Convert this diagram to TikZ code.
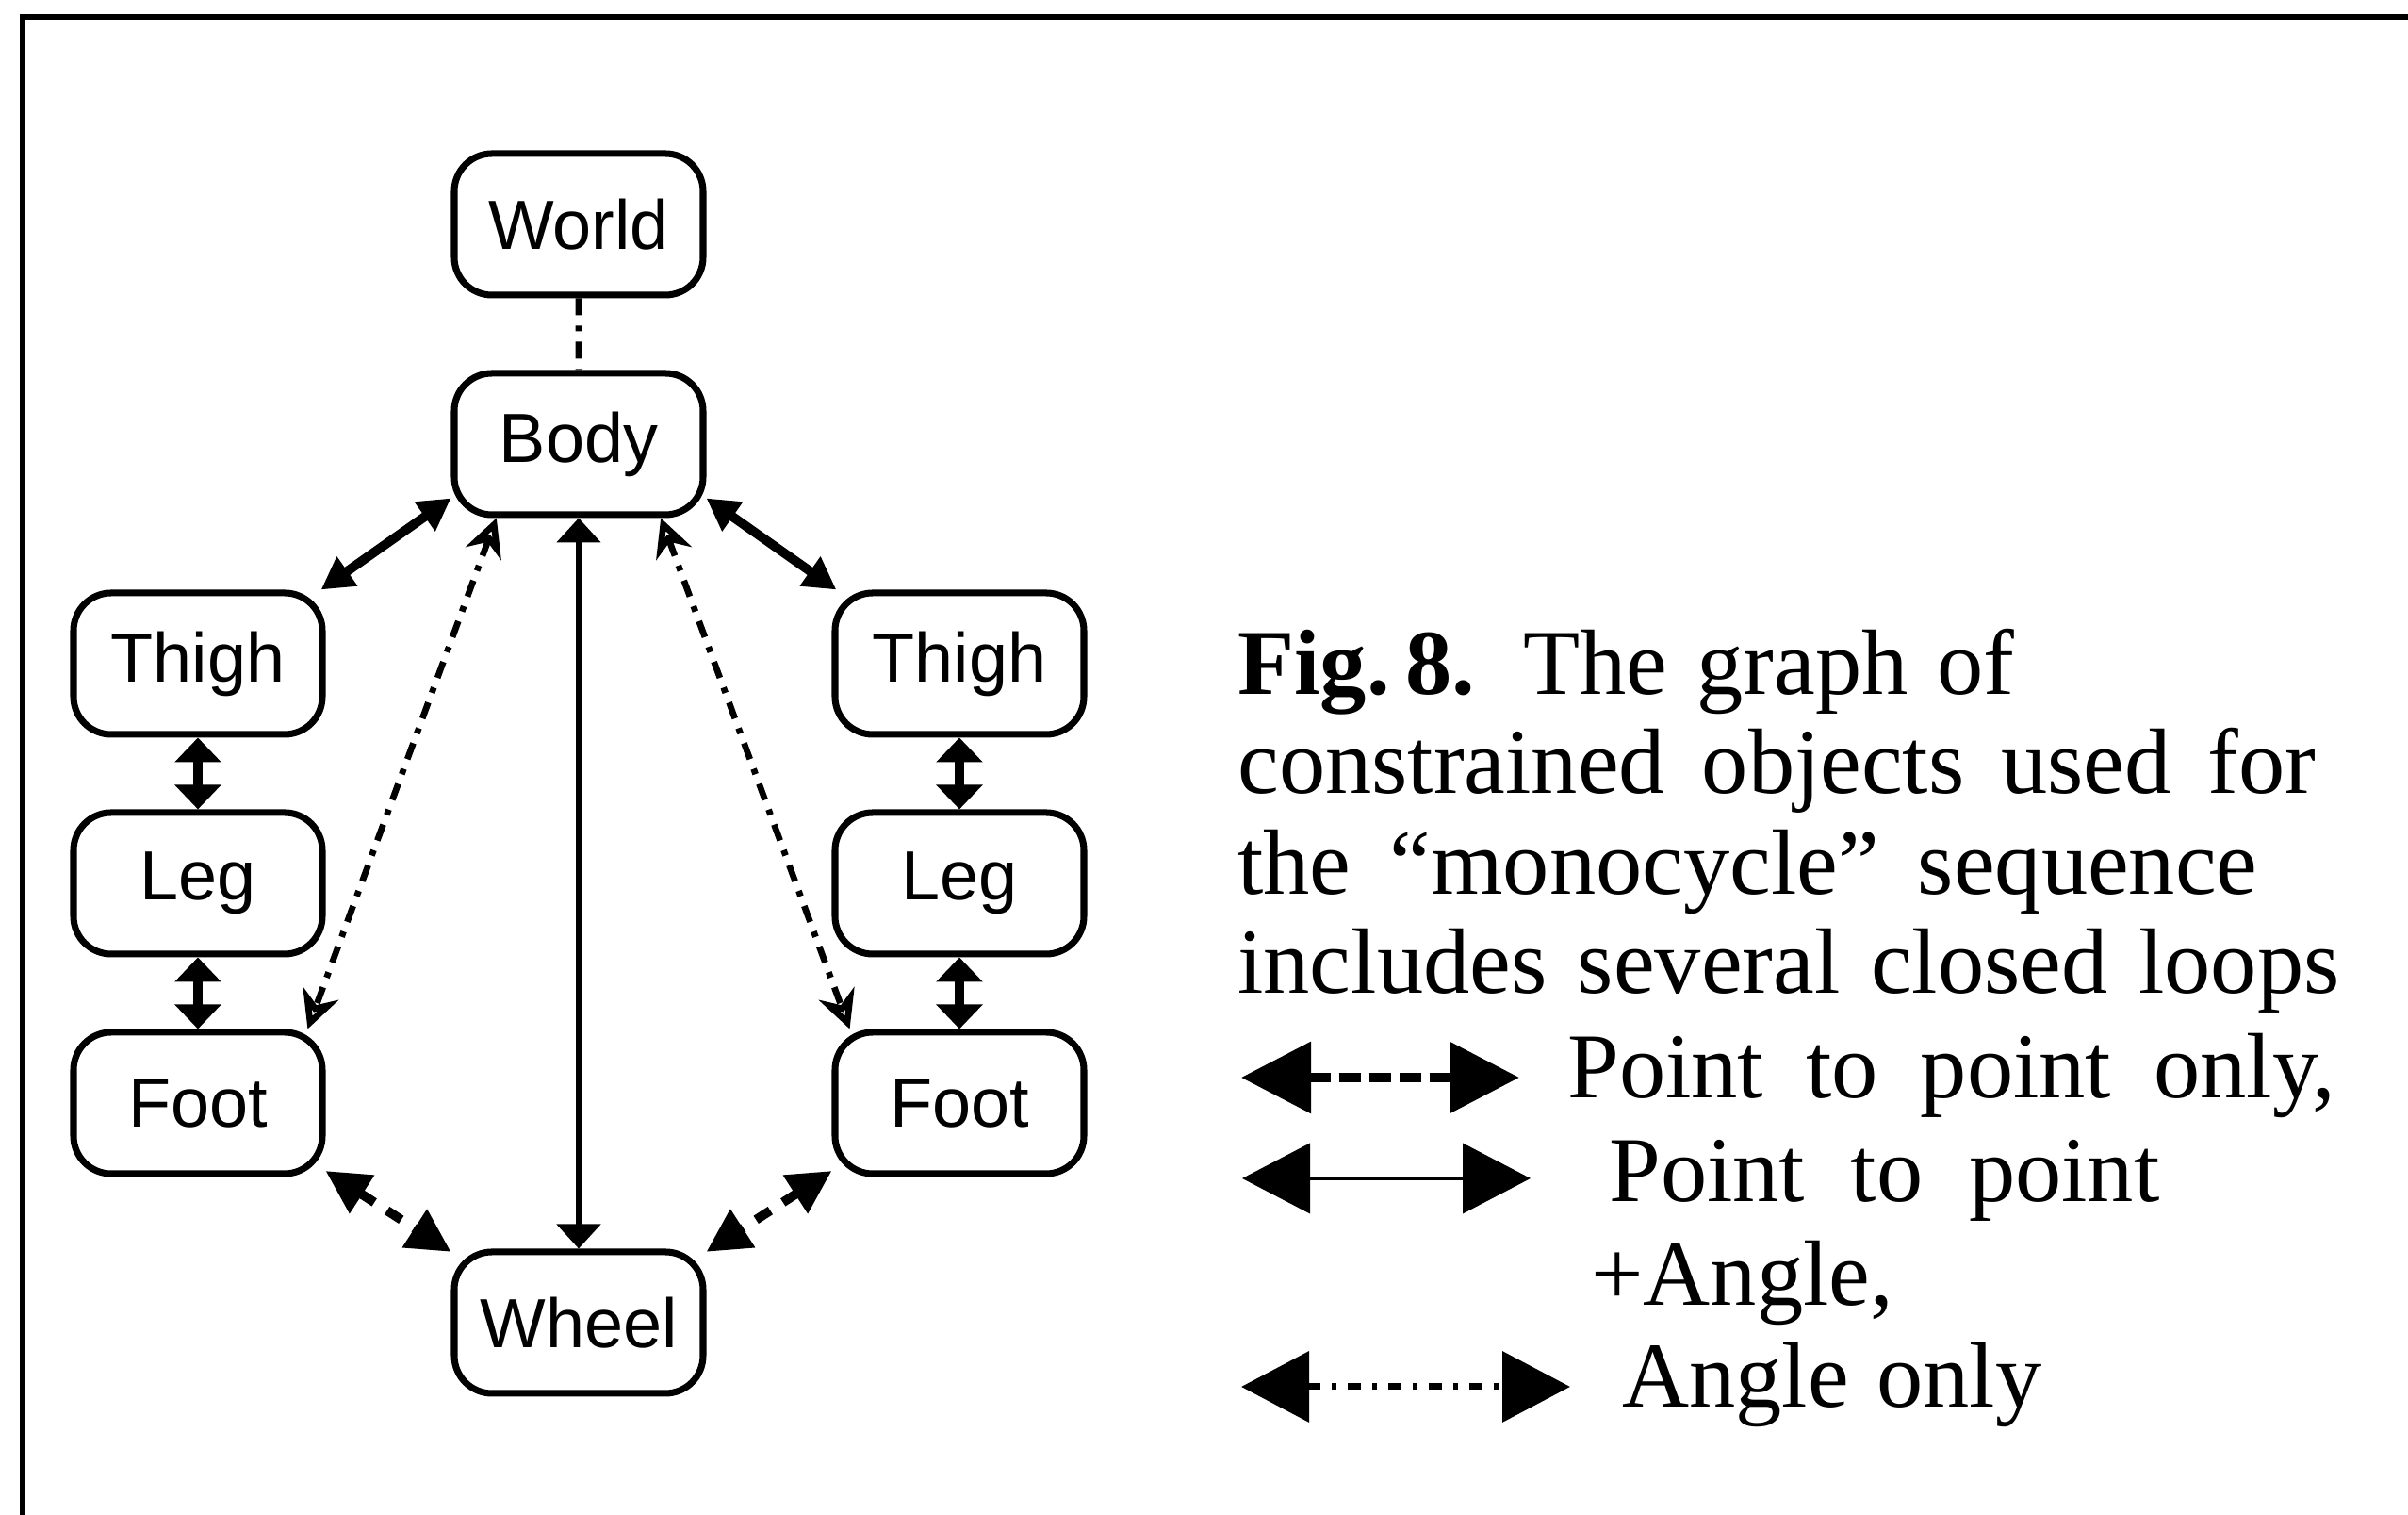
\documentclass[tikz,border=0pt]{standalone}
\usepackage{fontspec}
\setmainfont{Liberation Serif}
\newfontfamily\boxfont{Liberation Sans}
\usetikzlibrary{arrows.meta}

\tikzset{graphe/.style = {every node/.style = {minimum width = #1, minimum height=7.5mm, draw,
                                               rounded corners=2mm, line width=1pt, inner sep=0pt,
                                               font=\boxfont\fontsize{10.5}{12}\selectfont},
                          level distance =11.65mm,
                          level 2/.style={sibling distance=20.2mm},
                          edge from parent/.style={draw=none},
                         },
         graphe/.default=13.2mm
        }
\tikzset{ppa/.style = {line width=1.4pt, {Triangle[length=1.7mm,width=1.8mm]}-{Triangle[length=1.7mm,width=1.8mm]}},
         ppafin/.style = {line width=0.8pt, {Triangle[length=1.3mm,width=2.3mm]}-{Triangle[length=1.3mm,width=2.3mm]}},
         court/.style = {line width=1.3pt, {Triangle[length=1.3mm,width=2.4mm]}-{Triangle[length=1.3mm,width=2.4mm]}},
         pp/.style = {line width=1.4pt, dash pattern=on 0.9mm off 0.8mm,
                      {Triangle[length=2.3mm,width=2.3mm]}-{Triangle[length=2.3mm,width=2.3mm]}},
         angtrait/.style = {line width=0.95pt, dash pattern=on 0.9mm off 0.55mm on 0.3mm off 0.55mm},
         ang/.style = {angtrait, {Stealth[open,length=2mm,width=2mm]}-{Stealth[open,length=2mm,width=2mm]}},
         legende/.style = {anchor=base west, inner sep=0pt, font=\fontsize{14}{16}\selectfont},
         legpp/.style = {line width=1.4pt, dash pattern=on 1.15mm off 0.45mm,
                         {Triangle[length=3.7mm,width=3.7mm]}-{Triangle[length=3.7mm,width=3.7mm]}},
         legppa/.style = {line width=0.6pt, {Triangle[length=3.6mm,width=3.7mm]}-{Triangle[length=3.6mm,width=3.7mm]}},
         legang/.style = {line width=1pt, dash pattern=on 0.7mm off 0.6mm on 0.25mm off 0.6mm,
                          {Triangle[length=3.6mm,width=3.7mm]}-{Triangle[length=3.6mm,width=3.7mm]}}
        }

\begin{document}
\begin{tikzpicture}
  \useasboundingbox (0,0) rectangle (12.775,-8.035);
  \draw[line width=0.85pt] (12.775,-0.09) -- (0.12,-0.09) -- (0.12,-8.035);

  \begin{scope}[graphe]
  \node (world) at (3.07,-1.19) {World}
   child {node (body) {Body}
           child {node (thighl) {Thigh}
                  child {node (legl) {Leg}
                         child {node (footl) {Foot}}
                        }
                 }
           child {child {child {child {node (wheel) {Wheel}}}}}
           child {node (thighr) {Thigh}
                  child {node (legr) {Leg}
                         child {node (footr) {Foot}}
                        }
                 }
        };
  \end{scope}

  \draw[angtrait] (world.south) -- (body.north);
  \draw[ppa] (body.203) -- (thighl.31);
  \draw[ppa] (body.337) -- (thighr.149);
  \draw[ppafin] (body.south) -- (wheel.north);
  \draw[ang] (body.222) -- (footl.34);
  \draw[ang] (body.318) -- (footr.146);
  \draw[court] (thighl.south) -- (legl.north);
  \draw[court] (legl.south) -- (footl.north);
  \draw[court] (thighr.south) -- (legr.north);
  \draw[court] (legr.south) -- (footr.north);
  \draw[pp] (footl.-28) -- (wheel.151);
  \draw[pp] (footr.208) -- (wheel.29);

  % legende
  \node[legende] (cap1) at (6.56,-3.685) {\makebox[4.12cm][s]{\textbf{Fig.\,8.} The graph of}};
  \node[legende] (cap2) at (6.56,-4.21) {\makebox[5.72cm][s]{constrained objects used for}};
  \node[legende] (cap3) at (6.56,-4.745) {\makebox[5.41cm][s]{the “monocycle” sequence}};
  \node[legende] (cap4) at (6.56,-5.27) {\makebox[5.845cm][s]{includes several closed loops}};

  \coordinate (pp1) at (6.585,-5.715);
  \coordinate (pp2) at (8.06,-5.715);
  \draw[legpp] (pp1) -- (pp2);
  \node[legende] (txtpp) at (8.31,-5.825) {\makebox[4.075cm][s]{Point to point only,}};

  \coordinate (ppa1) at (6.59,-6.25);
  \coordinate (ppa2) at (8.12,-6.25);
  \draw[legppa] (ppa1) -- (ppa2);
  \node[legende] (txtppa) at (8.53,-6.375) {\makebox[2.92cm][s]{Point to point}};
  \node[legende] (txtplus) at (8.435,-6.925) {+Angle,};

  \coordinate (ang1) at (6.585,-7.355);
  \coordinate (ang2) at (8.33,-7.355);
  \draw[legang] (ang1) -- (ang2);
  \node[legende] (txtang) at (8.6,-7.465) {\makebox[2.225cm][s]{Angle only}};
\end{tikzpicture}
\end{document}
